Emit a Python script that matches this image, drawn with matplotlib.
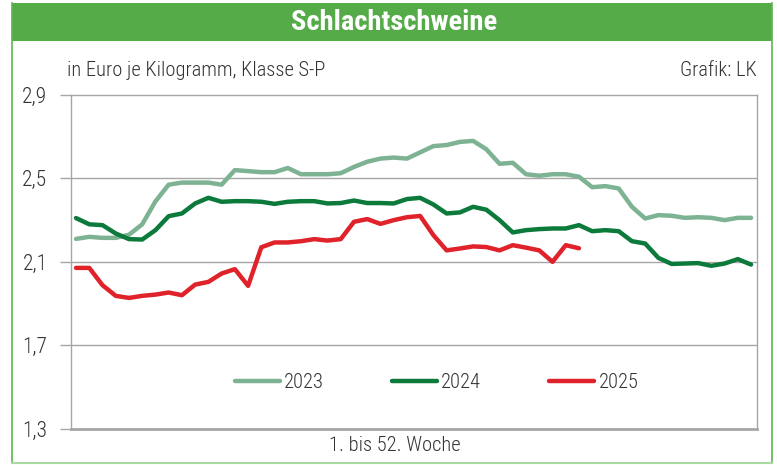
import matplotlib
matplotlib.use("Agg")
import matplotlib.pyplot as plt
from matplotlib.patches import Rectangle
from matplotlib.lines import Line2D

plt.rcParams['font.family'] = ['Roboto Condensed', 'DejaVu Sans']
plt.rcParams['font.weight'] = 'light'

weeks = list(range(1, 53))
y2023 = [2.21, 2.22, 2.215, 2.215, 2.23, 2.28, 2.39, 2.47, 2.48, 2.48, 2.48, 2.47, 2.54,
         2.535, 2.53, 2.53, 2.55, 2.52, 2.52, 2.52, 2.525, 2.555, 2.58, 2.595, 2.60, 2.595,
         2.625, 2.655, 2.66, 2.675, 2.68, 2.64, 2.57, 2.575, 2.52, 2.513, 2.52, 2.52, 2.508,
         2.458, 2.463, 2.452, 2.364, 2.308, 2.324, 2.321, 2.311, 2.314, 2.311, 2.30, 2.311, 2.311]
y2024 = [2.31, 2.28, 2.276, 2.236, 2.209, 2.207, 2.252, 2.319, 2.332, 2.38, 2.407, 2.388, 2.391,
         2.391, 2.388, 2.378, 2.388, 2.391, 2.391, 2.38, 2.382, 2.394, 2.382, 2.382, 2.38, 2.401,
         2.407, 2.375, 2.332, 2.337, 2.364, 2.35, 2.30, 2.241, 2.252, 2.257, 2.26, 2.26, 2.276,
         2.247, 2.252, 2.247, 2.199, 2.188, 2.119, 2.09, 2.092, 2.094, 2.081, 2.092, 2.113, 2.087]
y2025 = [2.071, 2.071, 1.988, 1.937, 1.927, 1.937, 1.943, 1.953, 1.94, 1.991, 2.004, 2.044, 2.065,
         1.985, 2.17, 2.193, 2.193, 2.199, 2.209, 2.202, 2.209, 2.292, 2.305, 2.282, 2.30, 2.314,
         2.32, 2.228, 2.155, 2.164, 2.174, 2.171, 2.155, 2.18, 2.168, 2.155, 2.10, 2.18, 2.165]
series_labels = ["2023", "2024", "2025"]
colors = ["#7db293", "#0b7a3b", "#e0222a"]
yticks = [1.3, 1.7, 2.1, 2.5, 2.9]
ytick_labels = ["1,3", "1,7", "2,1", "2,5", "2,9"]

W, H = 777, 465
fig = plt.figure(figsize=(W / 100, H / 100), dpi=100)
fig.patch.set_facecolor("white")

# outer frame
fig.add_artist(Line2D([12 / W, 12 / W], [1 - 463 / H, 1 - 3 / H], color="#5cb54f", lw=1.2))
fig.add_artist(Line2D([772 / W, 772 / W], [1 - 463 / H, 1 - 3 / H], color="#5cb54f", lw=1.2))
fig.add_artist(Line2D([12 / W, 772 / W], [1 - 463 / H, 1 - 463 / H], color="#a9d9a0", lw=1.5))
# title banner
fig.add_artist(Rectangle((12 / W, 1 - 41 / H), 760 / W, 38 / H, transform=fig.transFigure,
                         facecolor="#55ab48", edgecolor="none"))
fig.text(394 / W, 1 - 22 / H, "Schlachtschweine", color="white", fontsize=20.5,
         fontweight="bold", ha="center", va="center")
fig.text(67 / W, 1 - 70 / H, "in Euro je Kilogramm, Klasse S-P", color="#333333",
         fontsize=14.8, ha="left", va="center")
fig.text(757 / W, 1 - 70 / H, "Grafik: LK", color="#333333",
         fontsize=14.8, ha="right", va="center")
fig.text(395 / W, 1 - 445 / H, "1. bis 52. Woche", color="#333333",
         fontsize=14.8, ha="center", va="center")

ax = fig.add_axes([71 / W, 1 - 428.7 / H, 686 / W, 333.7 / H])
ax.set_xlim(0.62, 52.45)
ax.set_ylim(1.3, 2.9)
ax.set_yticks(yticks)
ax.set_yticklabels(ytick_labels)
ax.set_xticks([])
ax.tick_params(axis="y", length=8, width=1, color="#a6a6a6", labelsize=15.5,
               labelcolor="#333333", pad=9)
for s in ["top", "right", "left"]:
    ax.spines[s].set_color("#a6a6a6")
    ax.spines[s].set_linewidth(1.0)
ax.spines["bottom"].set_color("#a6a6a6")
ax.spines["bottom"].set_linewidth(2.0)
for v in [1.7, 2.1, 2.5]:
    ax.axhline(v, color="#a6a6a6", lw=1.0, zorder=1)

for vals, lab, c in zip([y2023, y2024, y2025], series_labels, colors):
    ax.plot(weeks[:len(vals)], vals, color=c, lw=3.2, label=lab, zorder=3,
            solid_capstyle="round", solid_joinstyle="round")

leg = ax.legend(loc="center", bbox_to_anchor=(0.533, 0.137), ncol=3, frameon=False,
                fontsize=14.8, handlelength=2.2, handletextpad=0.2, columnspacing=3.3,
                labelcolor="#333333")

fig.savefig("out.png", dpi=100, facecolor="white")
